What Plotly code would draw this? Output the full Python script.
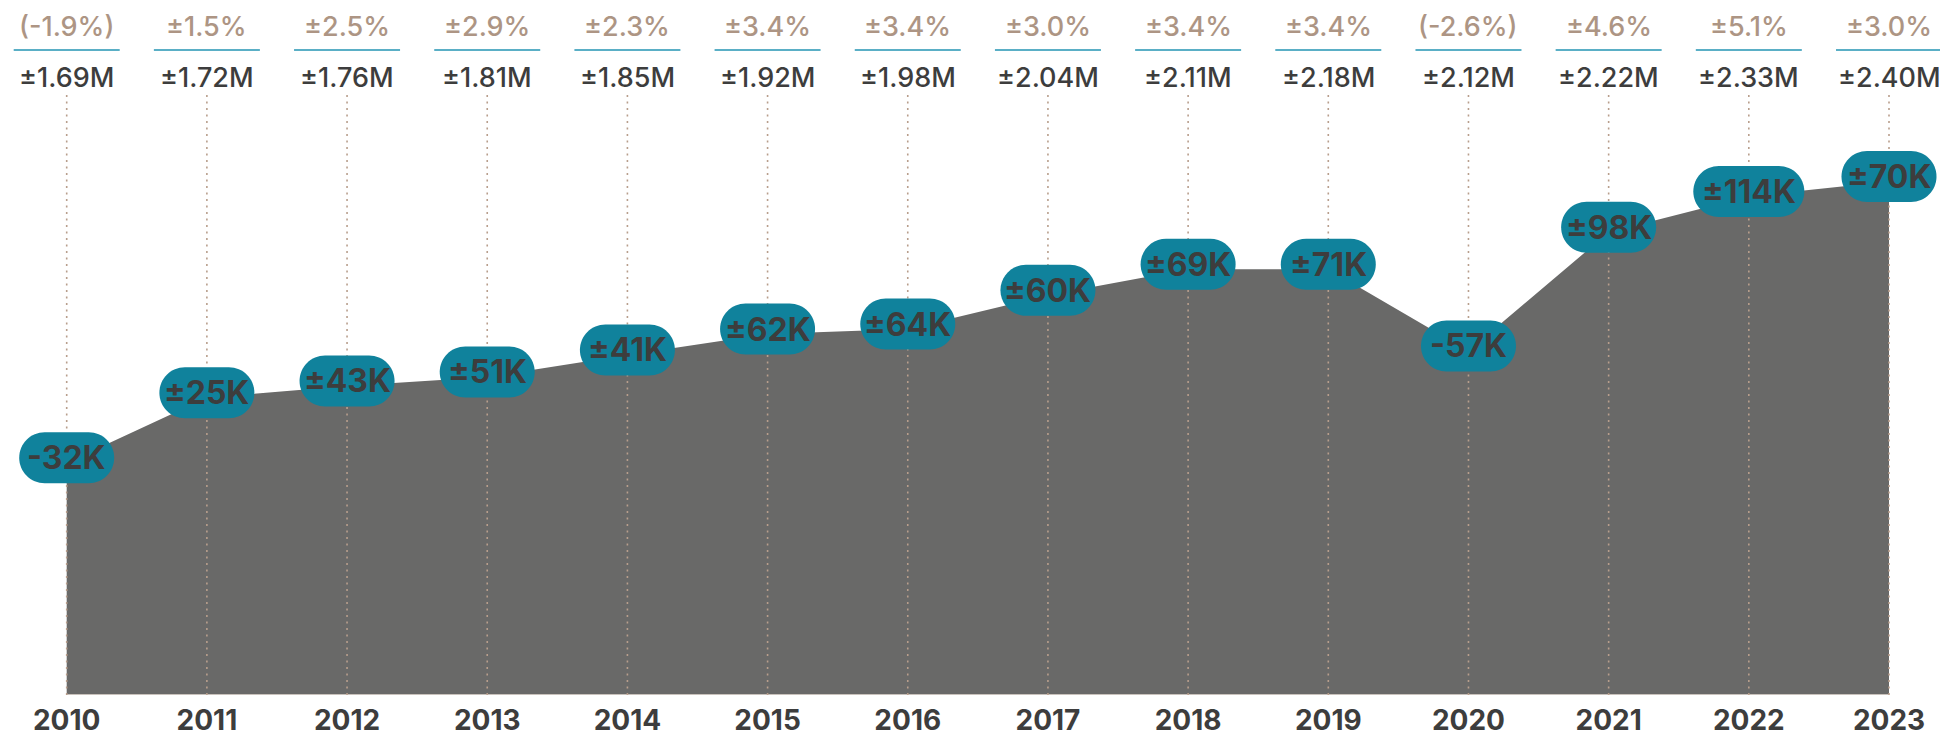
import plotly.graph_objects as go

years = list(range(2010, 2024))
area_level = [233, 298, 310, 319, 341, 362, 367, 401, 427, 427, 345, 464, 500, 515]
change_labels = ["-32K", "±25K", "±43K", "±51K", "±41K", "±62K", "±64K", "±60K",
                 "±69K", "±71K", "-57K", "±98K", "±114K", "±70K"]
pct_labels = ["(-1.9%)", "±1.5%", "±2.5%", "±2.9%", "±2.3%", "±3.4%", "±3.4%", "±3.0%",
              "±3.4%", "±3.4%", "(-2.6%)", "±4.6%", "±5.1%", "±3.0%"]
pop_labels = ["±1.69M", "±1.72M", "±1.76M", "±1.81M", "±1.85M", "±1.92M", "±1.98M",
              "±2.04M", "±2.11M", "±2.18M", "±2.12M", "±2.22M", "±2.33M", "±2.40M"]

W, H = 1940, 737
BOTTOM = 40
PX_PER_YEAR = (1889 - 66.7) / 13
X_RANGE = [years[0] - 66.7 / PX_PER_YEAR, years[-1] + (W - 1889) / PX_PER_YEAR]
Y_TOP = H - BOTTOM          # 1 unit = 1 px
DOT_TOP = Y_TOP - 93

AREA = "#696968"
PILL = "#10829c"
DARK = "#3d3d3d"
TAN = "#ad9584"
TEAL_LINE = "#5aafc6"
FONT = "Inter"

fig = go.Figure()
fig.add_trace(go.Scatter(x=years, y=area_level, mode="lines", fill="tozeroy",
                         fillcolor=AREA, line=dict(width=0, color=AREA),
                         hoverinfo="skip", showlegend=False))

shapes = []
annotations = []

# baseline
shapes.append(dict(type="line", xref="x", yref="y", x0=years[0], x1=years[-1], y0=0, y1=0,
                   line=dict(color="#c9c2bc", width=2), layer="above"))

def pill_path(w, h, cy):
    r = h / 2
    k = 0.5523 * r
    l, rr = -w / 2, w / 2
    t, b = cy + r, cy - r
    p = (f"M{l + r},{t} L{rr - r},{t} "
         f"C{rr - r + k},{t} {rr},{cy + k} {rr},{cy} "
         f"C{rr},{cy - k} {rr - r + k},{b} {rr - r},{b} "
         f"L{l + r},{b} "
         f"C{l + r - k},{b} {l},{cy - k} {l},{cy} "
         f"C{l},{cy + k} {l + r - k},{t} {l + r},{t} Z")
    return p

for i, yr in enumerate(years):
    shapes.append(dict(type="line", xref="x", yref="y", x0=yr, x1=yr, y0=0, y1=DOT_TOP,
                       line=dict(color="#b89e8c", width=1.6, dash="2px,4.5px"), layer="above"))
    shapes.append(dict(type="line", xref="x", yref="paper", xsizemode="pixel", ysizemode="pixel",
                       xanchor=yr, yanchor=1, x0=-53, x1=53, y0=-50, y1=-50,
                       line=dict(color=TEAL_LINE, width=2), layer="above"))

for i, yr in enumerate(years):
    w = 16 * len(change_labels[i]) + 31
    shapes.append(dict(type="path", xref="x", yref="y", xsizemode="pixel", ysizemode="pixel",
                       xanchor=yr, yanchor=area_level[i], path=pill_path(w, 51, 5),
                       fillcolor=PILL, line=dict(width=0), layer="above"))
    annotations.append(dict(x=yr, y=area_level[i], xref="x", yref="y", text=change_labels[i],
                            showarrow=False, yshift=5, xanchor="center", yanchor="middle",
                            font=dict(family=FONT, size=32, color=DARK, weight=700)))
    annotations.append(dict(x=yr, y=1, xref="x", yref="paper", text=pct_labels[i],
                            showarrow=False, yshift=-26, xanchor="center", yanchor="middle",
                            font=dict(family=FONT, size=27, color=TAN, weight=500)))
    annotations.append(dict(x=yr, y=1, xref="x", yref="paper", text=pop_labels[i],
                            showarrow=False, yshift=-77, xanchor="center", yanchor="middle",
                            font=dict(family=FONT, size=27, color=DARK, weight=500)))

fig.update_layout(
    width=W, height=H,
    margin=dict(l=0, r=0, t=0, b=BOTTOM, pad=0),
    paper_bgcolor="white", plot_bgcolor="white",
    shapes=shapes, annotations=annotations,
    showlegend=False,
    xaxis=dict(range=X_RANGE, tickvals=years, ticktext=[str(y) for y in years],
               showgrid=False, zeroline=False, showline=False, ticks="",
               ticklabelstandoff=6,
               tickfont=dict(family=FONT, size=28, color=DARK, weight=700)),
    yaxis=dict(range=[0, Y_TOP], visible=False, showgrid=False, zeroline=False),
)

fig.write_html("out.html")
